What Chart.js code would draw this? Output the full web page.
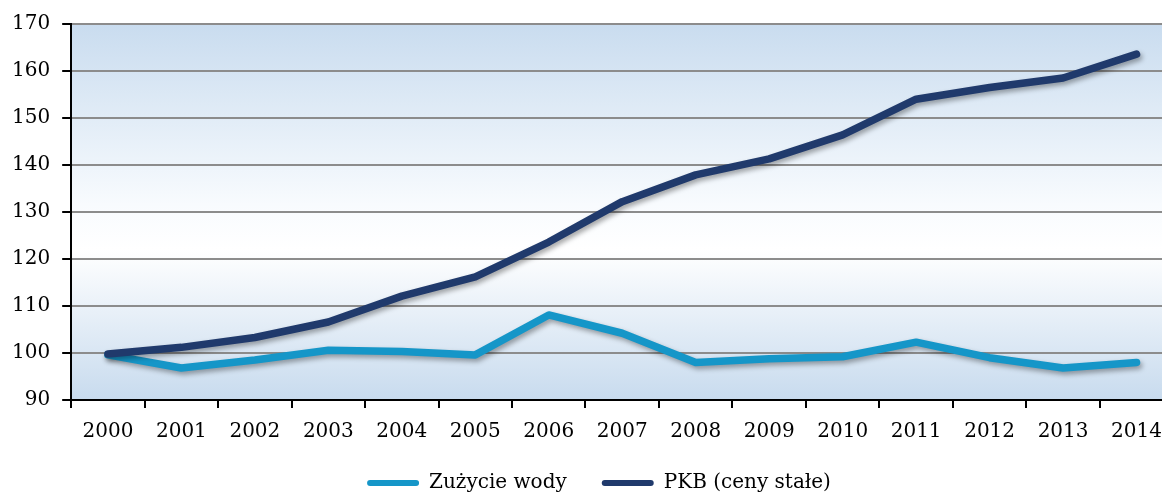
<!DOCTYPE html>
<html>
<head>
<meta charset="utf-8">
<script src="https://cdn.jsdelivr.net/npm/chart.js@4"></script>
<style>
  body { margin: 0; background: #fff; overflow: hidden; }
  #wrap { width: 1174px; height: 495px; }
</style>
</head>
<body>
<div id="wrap"><canvas id="water_chart"></canvas></div>
<script>
// data
let years = ["2000", "2001", "2002", "2003", "2004", "2005", "2006", "2007", "2008", "2009", "2010", "2011", "2012", "2013", "2014"];
let zuzycie_wody = [99.6, 96.8, 98.5, 100.6, 100.3, 99.6, 108.1, 104.2, 98.0, 98.8, 99.2, 102.3, 99.0, 96.8, 98.0];
let pkb = [99.8, 101.2, 103.3, 106.6, 112.1, 116.2, 123.6, 132.2, 137.9, 141.3, 146.4, 154.0, 156.5, 158.5, 163.6];
let y_min = 90, y_max = 170, y_step = 10;

let font = { family: "'DejaVu Serif', serif", size: 20 };

// light blue -> white -> light blue behind the plot
let bgPlugin = {
    id: "plot_bg",
    beforeDraw: function(chart) {
        let a = chart.chartArea, ctx = chart.ctx;
        let g = ctx.createLinearGradient(0, a.top, 0, a.bottom);
        g.addColorStop(0, "#c9dcef");
        g.addColorStop(0.48, "#f8fbfe");
        g.addColorStop(0.6, "#ffffff");
        g.addColorStop(1, "#c8dbee");
        ctx.save();
        ctx.fillStyle = g;
        ctx.fillRect(a.left, a.top, a.right - a.left, a.bottom - a.top);
        ctx.restore();
    }
};

// soft shadow under the lines
let shadowPlugin = {
    id: "line_shadow",
    beforeDatasetsDraw: function(chart) {
        let ctx = chart.ctx;
        ctx.save();
        ctx.shadowColor = "rgba(0,0,0,0.35)";
        ctx.shadowBlur = 5;
        ctx.shadowOffsetX = 2;
        ctx.shadowOffsetY = 3;
    },
    afterDatasetsDraw: function(chart) {
        chart.ctx.restore();
    }
};

// legend: keep its box short and nudge it to where it sits in the picture
let legendFix = {
    id: "legend_fix",
    beforeLayout: function(chart) {
        let l = chart.legend;
        if (l && !l._patched) {
            let fit = l.fit;
            l.fit = function() { fit.call(this); this.height = 51; };
            l._patched = true;
        }
    },
    afterLayout: function(chart) {
        let l = chart.legend;
        l.top -= 6;
        l.left += 12; l.right += 12;
    }
};

let ctx = document.getElementById("water_chart").getContext("2d");
let chart = new Chart(ctx, {
    type: "line",
    data: {
        labels: years,
        datasets: [{
            label: "Zużycie wody",
            data: zuzycie_wody,
            borderColor: "#1596c8",
            backgroundColor: "#1596c8",
            borderWidth: 7.5,
            pointRadius: 0,
            tension: 0,
            borderCapStyle: "round",
            borderJoinStyle: "round",
            order: 1
        }, {
            label: "PKB (ceny stałe)",
            data: pkb,
            borderColor: "#203a6c",
            backgroundColor: "#203a6c",
            borderWidth: 7.5,
            pointRadius: 0,
            tension: 0,
            borderCapStyle: "round",
            borderJoinStyle: "round",
            order: 0
        }]
    },
    options: {
        responsive: true,
        maintainAspectRatio: false,
        animation: false,
        layout: { padding: { top: 24, left: 0, right: 0, bottom: 0 } },
        plugins: {
            tooltip: { enabled: false },
            legend: {
                position: "bottom",
                labels: {
                    font: font,
                    color: "#000",
                    boxWidth: 52,
                    boxHeight: 6,
                    useBorderRadius: true,
                    borderRadius: 3,
                    padding: 35,
                    sort: function(a, b) { return a.datasetIndex - b.datasetIndex; },
                    generateLabels: function(chart) {
                        let items = Chart.defaults.plugins.legend.labels.generateLabels(chart);
                        items.forEach(function(item) { item.lineWidth = 0; });
                        return items;
                    }
                }
            }
        },
        scales: {
            x: {
                offset: true,
                grid: {
                    offset: true,
                    drawOnChartArea: false,
                    drawTicks: true,
                    tickLength: 8,
                    color: "#000",
                    lineWidth: 2
                },
                border: { color: "#000", width: 2 },
                ticks: { font: font, color: "#000", padding: 12, maxRotation: 0, autoSkip: false },
                afterFit: function(scale) { scale.height = 44; }
            },
            y: {
                min: y_min,
                max: y_max,
                grid: {
                    color: "#8c8c8c",
                    lineWidth: 2,
                    tickColor: "#000",
                    tickLength: 9
                },
                border: { color: "#000", width: 2 },
                ticks: { stepSize: y_step, font: font, color: "#000", padding: 12 }
            }
        }
    },
    plugins: [bgPlugin, shadowPlugin, legendFix]
});
</script>
</body>
</html>
